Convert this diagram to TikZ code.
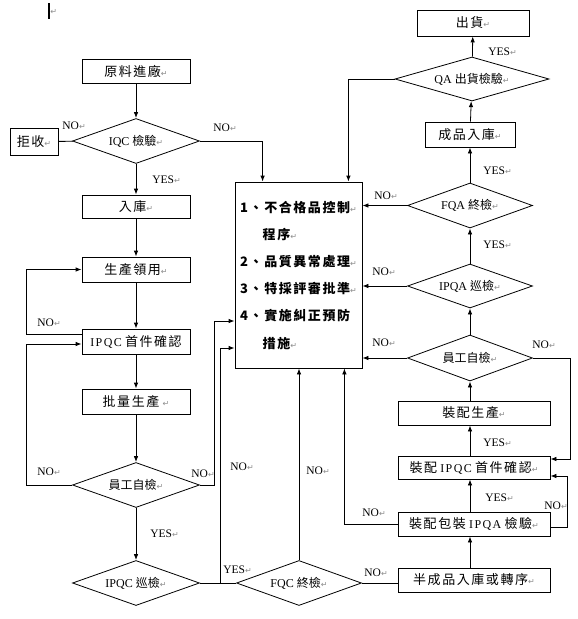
\documentclass[tikz,border=0pt]{standalone}
\usepackage{fontspec}
\usepackage{tikz}
\usepackage{xcolor}
\usetikzlibrary{shapes.geometric,arrows.meta}
\setmainfont{Liberation Serif}
\newfontfamily\cjk{Noto Sans CJK TC}
\newfontfamily\cjks{Noto Sans CJK TC}[LetterSpace=12]
\newfontfamily\tms{Liberation Serif}[LetterSpace=12,Scale=0.92]
\newfontfamily\dejavu{DejaVu Sans}
\definecolor{MarkGray}{HTML}{8C8C8C}
\newcommand\pmk{{\dejavu\mdseries\fontsize{8}{8}\selectfont\color{MarkGray}↵}}
\newcommand\nodeylj{{\cjks 原料進廠}\pmk}
\newcommand\nodejs{{\cjks 拒收}\pmk}
\newcommand\nodeiqc{IQC {\cjk 檢驗}\pmk}
\newcommand\noderk{{\cjks 入庫}\pmk}
\newcommand\nodescly{{\cjks 生產領用}\pmk}
\newcommand\nodeipqcsj{{\tms IPQC} {\cjks 首件確認}}
\newcommand\nodeplsc{{\cjks 批量生產} \pmk}
\newcommand\nodeygzj{{\cjk 員工自檢}\pmk}
\newcommand\nodeipqcxj{IPQC {\cjk 巡檢}\pmk}
\newcommand\nodefqc{FQC {\cjk 終檢}\pmk}
\newcommand\nodebcp{{\cjks 半成品入庫或轉序}\pmk}
\newcommand\nodezbbz{{\cjks 裝配包裝} {\tms IPQA} {\cjks 檢驗}\pmk}
\newcommand\nodezbipqc{{\cjks 裝配} {\tms IPQC} {\cjks 首件確認}\pmk}
\newcommand\nodezbsc{{\cjks 裝配生產}\pmk}
\newcommand\nodeipqa{IPQA {\cjk 巡檢}\pmk}
\newcommand\nodefqa{FQA {\cjk 終檢}\pmk}
\newcommand\nodecprk{{\cjks 成品入庫}\pmk}
\newcommand\nodeqa{QA {\cjk 出貨檢驗}\pmk}
\newcommand\nodech{{\cjks 出貨}\pmk}
\newcommand\nodeclcx{1、不合格品控制\pmk\\ \phantom{1、}程序\pmk\\ 2、品質異常處理\pmk\\ 3、特採評審批準\pmk\\ 4、實施糾正預防\\ \phantom{1、}措施\pmk}
\tikzstyle{boxnode} = [rectangle, draw, inner sep=0pt, minimum height=24pt, font=\fontsize{13}{14}\selectfont]
\tikzstyle{decnode} = [diamond, draw, aspect=2.8, inner sep=0pt, minimum width=125pt, minimum height=45pt, font=\fontsize{12}{13}\selectfont]
\tikzstyle{lbl} = [inner sep=0pt, anchor=west, font=\fontsize{11.5}{12}\selectfont]
\tikzset{>={Latex[length=6pt,width=4.5pt]}, every picture/.style={line width=0.8pt}}

\begin{document}
\begin{tikzpicture}[x=1pt, y=-1pt]
\useasboundingbox (0,0) rectangle (578,619);
\draw[line width=2pt] (48.5,3) -- (48.5,19);
\node[lbl] (crs) at (50,12) {\pmk};
\node[boxnode, minimum width=108pt] (ylj) at (136,71.5) {\nodeylj};
\node[decnode, minimum width=127pt] (iqc) at (136,141) {\nodeiqc};
\node[boxnode, minimum width=48pt, minimum height=27pt] (js) at (34,141.5) {\nodejs};
\node[boxnode, minimum width=108pt, minimum height=23pt] (rk) at (136,206.5) {\noderk};
\node[boxnode, minimum width=108pt, minimum height=25pt] (scly) at (136,269.5) {\nodescly};
\node[boxnode, minimum width=108pt, minimum height=25pt] (ipqcsj) at (136,341.5) {\nodeipqcsj};
\node[boxnode, minimum width=108pt, minimum height=25pt] (plsc) at (136,401.5) {\nodeplsc};
\node[decnode, minimum width=127pt] (ygzj) at (136,485) {\nodeygzj};
\node[decnode, minimum width=127pt] (ipqcxj) at (136,583) {\nodeipqcxj};
\node[decnode] (fqc) at (299,583) {\nodefqc};
\node[boxnode, minimum width=152pt] (bcp) at (474,580) {\nodebcp};
\node[boxnode, minimum width=152pt] (zbbz) at (474,524) {\nodezbbz};
\node[boxnode, minimum width=152pt, minimum height=23pt] (zbipqc) at (474,467.5) {\nodezbipqc};
\node[boxnode, minimum width=152pt] (zbsc) at (474,413) {\nodezbsc};
\node[decnode, minimum height=46pt] (ygzjb) at (470,358) {\nodeygzj};
\node[decnode, minimum height=44pt] (ipqa) at (470,286) {\nodeipqa};
\node[decnode] (fqa) at (470,205.5) {\nodefqa};
\node[boxnode, minimum width=90pt, minimum height=25pt] (cprk) at (470,134.5) {\nodecprk};
\node[decnode, minimum width=154pt, minimum height=44pt] (qa) at (472,79) {\nodeqa};
\node[boxnode, minimum width=112pt, minimum height=26pt] (ch) at (473,23) {\nodech};
\node[rectangle, draw, inner sep=0pt, minimum width=127pt, minimum height=186pt, align=left, font=\cjks\bfseries\fontsize{13}{27.2}\selectfont] (clcx) at (298.5,275) {\nodeclcx};
\draw [->] (ylj) -- (iqc);
\draw (iqc) -- (js);
\draw [->] (iqc.east) -| ([xshift=28pt]clcx.north west);
\draw [->] (iqc) -- (rk);
\draw [->] (rk) -- (scly);
\draw [->] (scly) -- (ipqcsj);
\draw [->] (ipqcsj) -- (plsc);
\draw [->] (plsc) -- (ygzj);
\draw [->] (ygzj) -- (ipqcxj);
\draw [->] ([yshift=7.5pt]ipqcsj.west) -- ++(-55,0) |- (scly.west);
\draw [->] (ygzj.west) -- ++(-46,0) |- ([yshift=-2.5pt]ipqcsj.west);
\draw [->] (ygzj.east) -- ++(14,0) |- ([yshift=-46pt]clcx.west);
\draw (ipqcxj) -- (fqc);
\draw [->] (ipqcxj.east) -- ++(20,0) |- ([yshift=-73pt]clcx.west);
\draw [->] (fqc.north) -- (fqc.north |- clcx.south);
\draw (fqc.east) -- (fqc.east -| bcp.west);
\draw [->] (bcp.north -| ygzjb) -- (zbbz.south -| ygzjb);
\draw [->] (zbbz.north -| ygzjb) -- (zbipqc.south -| ygzjb);
\draw [->] (zbipqc.north -| ygzjb) -- (zbsc.south -| ygzjb);
\draw [->] (zbsc.north -| ygzjb) -- (ygzjb.south);
\draw [->] (ygzjb.east) -- ++(37,0) |- ([yshift=8.5pt]zbipqc.east);
\draw [->] ([yshift=-3pt]zbbz.east) -- ++(17,0) |- ([yshift=-8.5pt]zbipqc.east);
\draw [->] (zbbz.west) -| ([xshift=-18pt]clcx.south east);
\draw [->] (ygzjb) -- (ygzjb -| clcx.east);
\draw [->] (ipqa) -- (ipqa -| clcx.east);
\draw [->] (fqa) -- (fqa -| clcx.east);
\draw [->] (ygzjb) -- (ipqa);
\draw [->] (ipqa) -- (fqa);
\draw [->] (fqa) -- (cprk);
\draw [->] (cprk) -- (qa);
\draw [->] (qa) -- (ch);
\draw [->] (qa.west) -| ([xshift=-14pt]clcx.north east);
\node[lbl] (noiqcl) at (62,126) {NO\pmk};
\node[lbl] (noiqcr) at (213,128) {NO\pmk};
\node[lbl] (yesiqc) at (152,180) {YES\pmk};
\node[lbl] (nosj) at (37,323) {NO\pmk};
\node[lbl] (noygl) at (37,472) {NO\pmk};
\node[lbl] (noygr) at (191,474) {NO\pmk};
\node[lbl] (noxj) at (230,467) {NO\pmk};
\node[lbl] (yesyg) at (150,534) {YES\pmk};
\node[lbl] (yesxj) at (223,570) {YES\pmk};
\node[lbl] (nofqcu) at (306,471) {NO\pmk};
\node[lbl] (nofqcr) at (364,573) {NO\pmk};
\node[lbl] (nozbl) at (362,513) {NO\pmk};
\node[lbl] (yeszb) at (485,498) {YES\pmk};
\node[lbl] (yeszbi) at (483,443) {YES\pmk};
\node[lbl] (nozbr) at (544,506) {NO\pmk};
\node[lbl] (noygbr) at (532,345) {NO\pmk};
\node[lbl] (noygbl) at (372,343) {NO\pmk};
\node[lbl] (noipqa) at (372,272) {NO\pmk};
\node[lbl] (yesipqa) at (483,245) {YES\pmk};
\node[lbl] (nofqa) at (374,196) {NO\pmk};
\node[lbl] (yesfqa) at (483,171) {YES\pmk};
\node[lbl] (yesqa) at (488,52) {YES\pmk};
\end{tikzpicture}
\end{document}
